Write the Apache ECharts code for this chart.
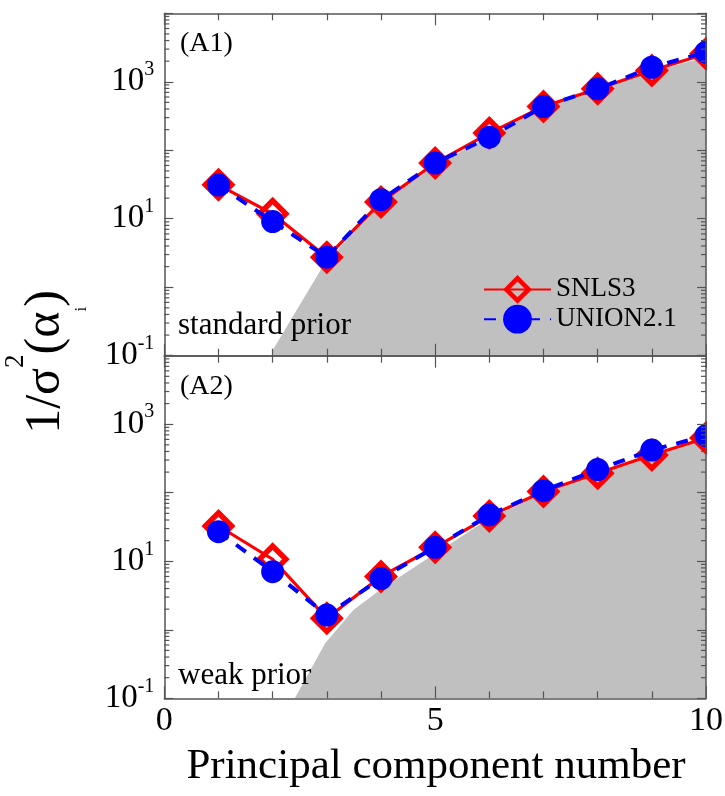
<!DOCTYPE html>
<html><head><meta charset="utf-8">
<script src="https://cdn.jsdelivr.net/npm/echarts@6/dist/echarts.min.js"></script>
<style>html,body{margin:0;padding:0;background:#fff}#c{width:725px;height:796px}</style>
</head><body><div id="c"></div>
<script>
// ---- data ----
const pcNumber = [1, 2, 3, 4, 5, 6, 7, 8, 9, 10];
const snls3Standard = [31.3, 11.8, 2.75, 17.5, 65, 178, 435, 790, 1460, 2570];
const union21Standard = [31, 9.1, 2.75, 19, 65, 155, 435, 790, 1630, 2700];
const snls3Weak = [32.7, 10.7, 1.47, 6.0, 16, 45.6, 104, 192, 355, 630];
const union21Weak = [27, 7.05, 1.64, 5.6, 16, 47.5, 107, 218, 420, 680];
const boundStandardX = [2, 2.9, 3.5, 4, 5, 6, 7, 8, 9, 10];
const boundStandardY = [0.12, 1.86, 6.5, 16.5, 60, 160, 420, 770, 1400, 2300];
const boundWeakX = [2.41, 2.97, 3.49, 3.98, 4.53, 5, 6, 7, 8, 9, 10];
const boundWeakY = [0.1, 0.635, 1.95, 3.8, 7.4, 13, 42, 98, 185, 340, 600];
const yLabelledExponents = [-1, 1, 3];
const xTickLabels = ['0', '5', '10'];
const seriesNames = ['SNLS3', 'UNION2.1'];
const panelLabels = ['(A1)', '(A2)'];
const priorLabels = ['standard prior', 'weak prior'];

const FONT = 'Liberation Serif';
const AX = '#555';
// hollow diamond (ring) symbol
const DIAMOND_RING = 'path://M0,-1L1,0L0,1L-1,0Z M0,-0.55L-0.55,0L0,0.55L0.55,0Z';
const chart = echarts.init(document.getElementById('c'), null, {renderer: 'canvas'});
const pairs = (xs, ys) => xs.map((x, i) => [x, ys[i]]);

const minorVals = [];
for (let k = -1; k <= 3; k++) for (let m = 2; m <= 9; m++) minorVals.push(m * Math.pow(10, k));

function xAx(gi, pos, showLabel) {
  return {
    type: 'value', gridIndex: gi, position: pos, min: 0, max: 10, interval: 5, z: 5,
    axisLine: {show: true, onZero: false, lineStyle: {color: AX, width: 1.5}},
    axisTick: {show: true, inside: true, length: 12, lineStyle: {color: AX, width: 1.2}},
    minorTick: {show: true, splitNumber: 5, length: 7, lineStyle: {color: AX, width: 1.2}},
    splitLine: {show: false}, minorSplitLine: {show: false},
    axisLabel: {show: showLabel, margin: 6, fontFamily: FONT, fontSize: 34, color: '#000',
      formatter: v => xTickLabels[Math.round(v / 5)] || ''}
  };
}
function yAx(gi, pos, showLabel) {
  return {
    type: 'log', logBase: 10, gridIndex: gi, position: pos, min: 0.1, max: 10000, splitNumber: 5, z: 5,
    axisLine: {show: true, onZero: false, lineStyle: {color: AX, width: 1.5}},
    axisTick: {show: true, inside: true, length: 9, lineStyle: {color: AX, width: 1.2}},
    minorTick: {show: false}, splitLine: {show: false},
    axisLabel: {show: showLabel, margin: 10,
      formatter: v => { const e = Math.round(Math.log10(v)); return yLabelledExponents.includes(e) ? '{b|10}{s|' + e + '}' : ''; },
      rich: {
        b: {fontFamily: FONT, fontSize: 33, lineHeight: 44, color: '#000'},
        s: {fontFamily: FONT, fontSize: 20, lineHeight: 20, verticalAlign: 'top', color: '#000'}
      }}
  };
}

const grids = [
  {left: 164.3, top: 13.3, width: 541.7, height: 342.4, outerBoundsMode: 'none'},
  {left: 164.3, top: 355.7, width: 541.7, height: 342.6, outerBoundsMode: 'none'}
];

const panels = [
  {snls: snls3Standard, union: union21Standard, bx: boundStandardX, by: boundStandardY},
  {snls: snls3Weak, union: union21Weak, bx: boundWeakX, by: boundWeakY}
];

const series = [];
panels.forEach((p, g) => {
  series.push({
    type: 'line', xAxisIndex: 2 * g, yAxisIndex: 2 * g, data: pairs(p.bx, p.by),
    showSymbol: false, symbol: 'none', lineStyle: {width: 0, color: '#c0c0c0'},
    areaStyle: {color: '#c0c0c0', opacity: 1, origin: 'start'}, z: 1, silent: true
  });
  series.push({
    type: 'custom', xAxisIndex: 2 * g, yAxisIndex: 2 * g, data: minorVals.map(v => [0, v]),
    z: 6, silent: true, clip: false,
    renderItem: (params, api) => {
      const v = api.value(1);
      const p0 = api.coord([0, v]);
      const p1 = api.coord([10, v]);
      return {type: 'group', children: [
        {type: 'line', shape: {x1: p0[0], y1: p0[1], x2: p0[0] + 5, y2: p0[1]}, style: {stroke: AX, lineWidth: 1.2}},
        {type: 'line', shape: {x1: p1[0], y1: p1[1], x2: p1[0] - 5, y2: p1[1]}, style: {stroke: AX, lineWidth: 1.2}}
      ]};
    }
  });
  series.push({
    name: seriesNames[0], type: 'line', xAxisIndex: 2 * g, yAxisIndex: 2 * g,
    data: pairs(pcNumber, p.snls), symbol: DIAMOND_RING, symbolSize: 34, z: 2,
    itemStyle: {color: '#ff0000', borderWidth: 0},
    lineStyle: {color: '#ff0000', width: 3.2}
  });
  series.push({
    name: seriesNames[1], type: 'line', xAxisIndex: 2 * g, yAxisIndex: 2 * g,
    data: pairs(pcNumber, p.union), symbol: 'circle', symbolSize: 23, z: 3,
    itemStyle: {color: '#0000ff', borderWidth: 0},
    lineStyle: {color: '#0000ff', width: 4, type: [12, 10]}
  });
});

const option = {
  animation: false,
  backgroundColor: '#fff',
  grid: grids,
  xAxis: [xAx(0, 'bottom', false), xAx(0, 'top', false), xAx(1, 'bottom', true), xAx(1, 'top', false)],
  yAxis: [yAx(0, 'left', true), yAx(0, 'right', false), yAx(1, 'left', true), yAx(1, 'right', false)],
  legend: {
    data: seriesNames, orient: 'vertical', left: 483, top: 275, padding: 0,
    itemWidth: 67, itemHeight: 36, itemGap: 1,
    textStyle: {fontFamily: FONT, fontSize: 27, color: '#000'}
  },
  series: series,
  graphic: [
    {type: 'rect', shape: {x: 707, y: 0, width: 18, height: 699}, style: {fill: '#fff'}, z: 50, silent: true},
    {type: 'text', x: 180, y: 44, z: 60, style: {text: panelLabels[0], font: '28px "Liberation Serif"', fill: '#000', textAlign: 'left', textVerticalAlign: 'middle'}},
    {type: 'text', x: 180, y: 386.5, z: 60, style: {text: panelLabels[1], font: '28px "Liberation Serif"', fill: '#000', textAlign: 'left', textVerticalAlign: 'middle'}},
    {type: 'text', x: 178, y: 326, z: 60, style: {text: priorLabels[0], font: '31px "Liberation Serif"', fill: '#000', textAlign: 'left', textVerticalAlign: 'middle'}},
    {type: 'text', x: 178, y: 676, z: 60, style: {text: priorLabels[1], font: '31px "Liberation Serif"', fill: '#000', textAlign: 'left', textVerticalAlign: 'middle'}},
    {type: 'text', x: 436, y: 767, z: 60, style: {text: 'Principal component number', font: '43px "Liberation Serif"', fill: '#000', textAlign: 'center', textVerticalAlign: 'middle'}},
    {type: 'text', x: 46, y: 362, rotation: Math.PI / 2, z: 60, style: {
      text: '{m|1/σ}{sup|2}{m|(α}{sub|i}{m|)}', textAlign: 'center', textVerticalAlign: 'middle', fill: '#000',
      rich: {
        m: {fontFamily: FONT, fontSize: 50, lineHeight: 88, fill: '#000'},
        sup: {fontFamily: FONT, fontSize: 27, lineHeight: 46, verticalAlign: 'top', fill: '#000'},
        sub: {fontFamily: FONT, fontSize: 17, lineHeight: 17, verticalAlign: 'bottom', fill: '#000'}
      }}}
  ]
};
chart.setOption(option);
</script></body></html>
